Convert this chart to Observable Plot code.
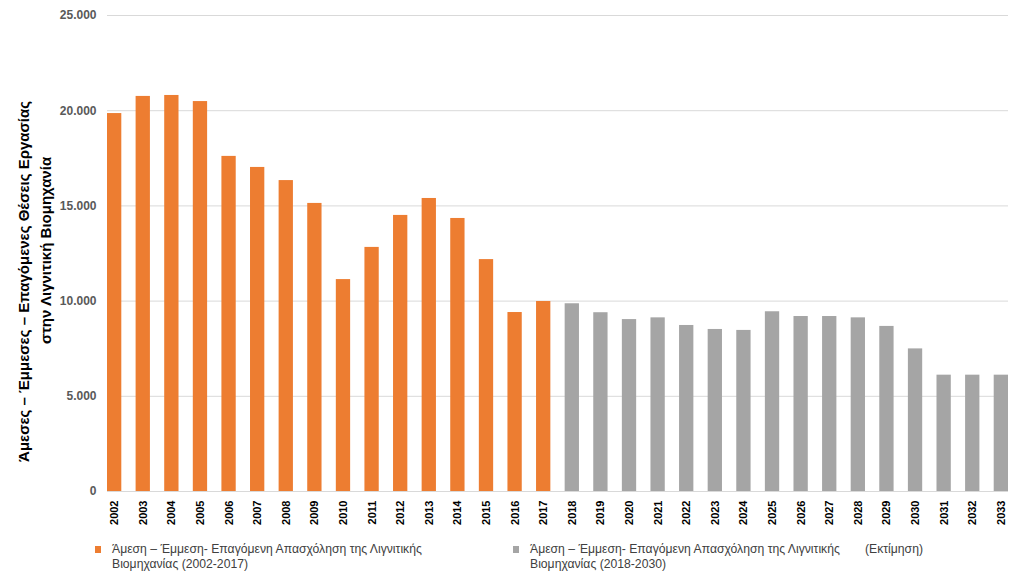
<!DOCTYPE html>
<html>
<head>
<meta charset="utf-8">
<script src="https://cdn.jsdelivr.net/npm/d3@7"></script>
<script src="https://cdn.jsdelivr.net/npm/@observablehq/plot@0.6"></script>
<style>
  html, body { margin: 0; padding: 0; background: #fff; }
  #wrap { position: relative; width: 1023px; height: 573px; overflow: hidden; font-family: "Liberation Sans", Arial, sans-serif; }
  .leg { position: absolute; font-size: 12.2px; color: #404040; line-height: 15px; white-space: nowrap; }
  .sw { position: absolute; width: 6px; height: 7px; }
</style>
</head>
<body>
<div id="wrap"></div>
<script>
const years = ["2002","2003","2004","2005","2006","2007","2008","2009","2010","2011","2012","2013","2014","2015","2016","2017",
               "2018","2019","2020","2021","2022","2023","2024","2025","2026","2027","2028","2029","2030","2031","2032","2033"];
const values = [19850, 20750, 20800, 20480, 17600, 17020, 16330, 15130, 11130, 12820, 14500, 15390, 14340, 12180, 9400, 9980,
                9860, 9390, 9030, 9120, 8720, 8510, 8460, 9440, 9190, 9190, 9120, 8670, 7490, 6110, 6110, 6110];
const seriesNames = ["Άμεση – Έμμεση- Επαγόμενη Απασχόληση της Λιγνιτικής Βιομηχανίας (2002-2017)",
                     "Άμεση – Έμμεση- Επαγόμενη Απασχόληση της Λιγνιτικής Βιομηχανίας (2018-2030)"];
const seriesColors = ["#ED7D31", "#A5A5A5"];
const yTicks = [0, 5000, 10000, 15000, 20000, 25000];
const yTitle1 = "Άμεσες – Έμμεσες – Επαγόμενες Θέσεις Εργασίας";
const yTitle2 = "στην Λιγνιτική Βιομηχανία";
const estimateNote = "(Εκτίμηση)";

const data = years.map((y, i) => ({year: y, value: values[i], series: +y <= 2017 ? seriesNames[0] : seriesNames[1]}));
const fmt = d => d === 0 ? "0" : d3.format(",")(d).replace(/,/g, ".");
const FONT = '"Liberation Sans", Arial, sans-serif';

const chart = Plot.plot({
  width: 1023,
  height: 540,
  marginLeft: 107,
  marginRight: 15,
  marginTop: 15,
  marginBottom: 49,
  style: {fontFamily: FONT, background: "#fff"},
  x: {type: "band", domain: years, paddingInner: 0.5, paddingOuter: 0, round: false, label: null},
  y: {domain: [0, 25000], label: null},
  color: {domain: seriesNames, range: seriesColors},
  marks: [
    Plot.gridY(yTicks, {stroke: "#d9d9d9", strokeOpacity: 1, strokeWidth: 1}),
    Plot.barY(data, {x: "year", y: "value", fill: "series"}),
    Plot.axisY({ticks: yTicks, tickFormat: fmt, tickSize: 0, tickPadding: 11, fontSize: 12, fontWeight: "bold", fill: "#595959", label: null}),
    Plot.axisX({tickSize: 0, tickPadding: 9, tickRotate: -90, fontSize: 11, fontWeight: "bold", fill: "#000", label: null}),
    Plot.text([yTitle1], {frameAnchor: "left", textAnchor: "middle", dx: -83, dy: 28, rotate: -90, fontSize: 15, fontWeight: "bold", fill: "#000"}),
    Plot.text([yTitle2], {frameAnchor: "left", textAnchor: "middle", dx: -61, dy: -3, rotate: -90, fontSize: 15, fontWeight: "bold", fill: "#000"})
  ]
});

const wrap = document.getElementById("wrap");
wrap.appendChild(chart);

function legendItem(x, color, text, note) {
  const sw = document.createElement("div");
  sw.className = "sw";
  sw.style.left = x + "px"; sw.style.top = "546px"; sw.style.background = color;
  wrap.appendChild(sw);
  const idx = text.indexOf("Βιομηχανίας");
  const t = document.createElement("div");
  t.className = "leg";
  t.style.left = (x + 17) + "px"; t.style.top = "542px";
  t.innerHTML = text.slice(0, idx).trim() + "<br>" + text.slice(idx);
  wrap.appendChild(t);
  if (note) {
    const n = document.createElement("div");
    n.className = "leg";
    n.style.left = "865px"; n.style.top = "542px";
    n.textContent = note;
    wrap.appendChild(n);
  }
}
legendItem(95, seriesColors[0], seriesNames[0]);
legendItem(513, seriesColors[1], seriesNames[1], estimateNote);
</script>
</body>
</html>
